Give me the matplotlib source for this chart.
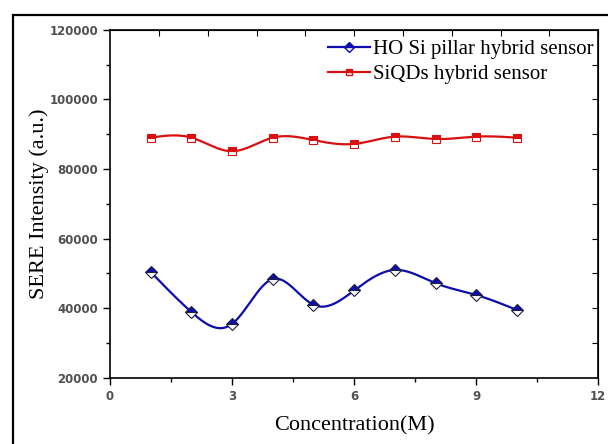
import matplotlib.pyplot as plt
import numpy as np
from matplotlib.patches import Rectangle
from matplotlib.ticker import MultipleLocator

conc = [1, 2, 3, 4, 5, 6, 7, 8, 9, 10]
ho_si = [50400, 38900, 35500, 48400, 41000, 45100, 51000, 47200, 43800, 39500]
siqds = [89000, 89000, 85100, 89000, 88300, 87200, 89300, 88600, 89300, 89000]


def natural_spline(x, y, n=400):
    # smooth connecting curve, like the spline line option in Origin
    x = np.asarray(x, float)
    y = np.asarray(y, float)
    h = np.diff(x)
    m = len(x)
    A = np.zeros((m, m))
    b = np.zeros(m)
    A[0, 0] = A[-1, -1] = 1
    for i in range(1, m - 1):
        A[i, i - 1] = h[i - 1]
        A[i, i] = 2 * (h[i - 1] + h[i])
        A[i, i + 1] = h[i]
        b[i] = 6 * ((y[i + 1] - y[i]) / h[i] - (y[i] - y[i - 1]) / h[i - 1])
    M = np.linalg.solve(A, b)
    xs = np.linspace(x[0], x[-1], n)
    k = np.clip(np.searchsorted(x, xs) - 1, 0, m - 2)
    t0 = x[k + 1] - xs
    t1 = xs - x[k]
    hk = h[k]
    ys = (M[k] * t0 ** 3 + M[k + 1] * t1 ** 3) / (6 * hk) \
        + (y[k] / hk - M[k] * hk / 6) * t0 + (y[k + 1] / hk - M[k + 1] * hk / 6) * t1
    return xs, ys


blue = '#0c0cb0'
red = '#d81010'

fig = plt.figure(figsize=(6.08, 4.44), dpi=100)
ax = fig.add_axes([0.181, 0.149, 0.803, 0.784])

for y, c, mk, lab in [(ho_si, blue, 'D', 'HO Si pillar hybrid sensor'),
                      (siqds, red, 's', 'SiQDs hybrid sensor')]:
    xs, ys = natural_spline(conc, y)
    ax.plot(xs, ys, color=c, lw=1.6)
    ax.plot(conc, y, ls='none', marker=mk, ms=6,
            color=c, fillstyle='top', markerfacecoloralt='white',
            markeredgecolor=c if mk == 's' else '#202040', mew=0.8)
    ax.plot([], [], color=c, lw=1.6, marker=mk, ms=5, fillstyle='top',
            markerfacecoloralt='white', label=lab)

ax.set_xlim(0, 12)
ax.set_ylim(20000, 120000)
ax.set_xticks([0, 3, 6, 9, 12])
ax.xaxis.set_minor_locator(MultipleLocator(1.5))
ax.set_yticks([20000, 40000, 60000, 80000, 100000, 120000])
ax.yaxis.set_minor_locator(MultipleLocator(10000))
ax.tick_params(which='both', direction='out', labelsize=8.5, labelcolor='#505050',
               width=1)
ax.tick_params(which='major', length=5)
ax.tick_params(which='minor', length=3)
for lab in ax.get_xticklabels() + ax.get_yticklabels():
    lab.set_fontweight('semibold')
for s in ax.spines.values():
    s.set_linewidth(1.2)

# mirrored ticks on top and right
top = ax.secondary_xaxis('top')
top.set_xticks(np.arange(1.2, 12, 1.2))
top.tick_params(direction='in', length=4, labeltop=False)
right = ax.secondary_yaxis('right')
right.set_yticks(np.arange(30000, 120000, 10000))
right.tick_params(direction='in', length=4, labelright=False)

ax.set_xlabel('Concentration(M)', family='Liberation Serif', fontsize=16, labelpad=10)
ax.set_ylabel('SERE Intensity (a.u.)', family='Liberation Serif', fontsize=16, labelpad=0)

leg = ax.legend(loc='upper right', frameon=False, prop={'family': 'Liberation Serif', 'size': 15},
                handlelength=2.0, handletextpad=0.15, labelspacing=0.25,
                borderaxespad=0.05, bbox_to_anchor=(1.01, 0.998))

fig.patches.append(Rectangle((13 / 608, -0.05), 1.0, 1 - 15 / 444 + 0.05,
                             transform=fig.transFigure, fill=False,
                             edgecolor='black', lw=1.6))

fig.savefig('out.png', dpi=100)
